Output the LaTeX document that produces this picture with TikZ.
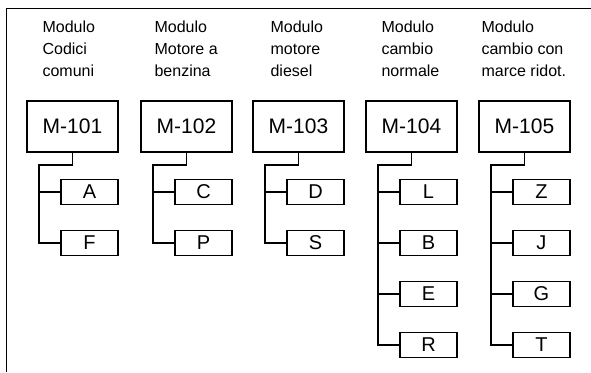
\documentclass[tikz,border=0pt]{standalone}
\usepackage{fontspec}
\setmainfont{Liberation Sans}
\begin{document}
\begin{tikzpicture}[x=0.5pt,y=-0.5pt,line width=0.6pt]
        \useasboundingbox (0,0) rectangle (591,372);
        \draw[line width=0.5pt] (591,8) -- (7,8) -- (7,372);
        \begin{scope}[every node/.style={anchor=north west, align=left, inner sep=0pt, font=\fontsize{8}{11}\selectfont}]
            \node (h1) at (42,20) {Modulo\\Codici\\comuni};
            \node (h2) at (154,20) {Modulo\\Motore a\\benzina};
            \node (h3) at (270,20) {Modulo\\motore\\diesel};
            \node (h4) at (381,20) {Modulo\\cambio\\normale};
            \node (h5) at (481,20) {Modulo\\cambio con\\marce ridot.};
        \end{scope}
        \begin{scope}[every node/.style={draw, minimum width=45.5pt, minimum height=25.5pt, font=\fontsize{10.5}{12}\selectfont}]
            \node (m1) at (72.5,126.5) {M-101};
            \node (m2) at (186.5,126.5) {M-102};
            \node (m3) at (298.5,126.5) {M-103};
            \node (m4) at (411.5,126.5) {M-104};
            \node (m5) at (524.5,126.5) {M-105};
        \end{scope}
        \begin{scope}[every node/.style={draw, minimum width=28.5pt, minimum height=12.5pt, inner sep=0pt, font=\fontsize{10}{12}\selectfont}]
            \node (a) at (89.5,192) {A};
            \node (f) at (89.5,243) {F};
            \node (c) at (203.5,192) {C};
            \node (p) at (203.5,243) {P};
            \node (d) at (315.5,192) {D};
            \node (s) at (315.5,243) {S};
            \node (l) at (428.5,192) {L};
            \node (b) at (428.5,243) {B};
            \node (e) at (428.5,294) {E};
            \node (r) at (428.5,345) {R};
            \node (z) at (541.5,192) {Z};
            \node (j) at (541.5,243) {J};
            \node (g) at (541.5,294) {G};
            \node (t) at (541.5,345) {T};
        \end{scope}
        \coordinate (k1) at (39,165);
        \coordinate (k2) at (153,165);
        \coordinate (k3) at (265,165);
        \coordinate (k4) at (378,165);
        \coordinate (k5) at (491,165);
        \draw (m1) |- (k1) |- (a);
        \draw (k1) |- (f);
        \draw (m2) |- (k2) |- (c);
        \draw (k2) |- (p);
        \draw (m3) |- (k3) |- (d);
        \draw (k3) |- (s);
        \draw (m4) |- (k4) |- (l);
        \draw (k4) |- (b);
        \draw (k4) |- (e);
        \draw (k4) |- (r);
        \draw (m5) |- (k5) |- (z);
        \draw (k5) |- (j);
        \draw (k5) |- (g);
        \draw (k5) |- (t);
    \end{tikzpicture}
\end{document}
